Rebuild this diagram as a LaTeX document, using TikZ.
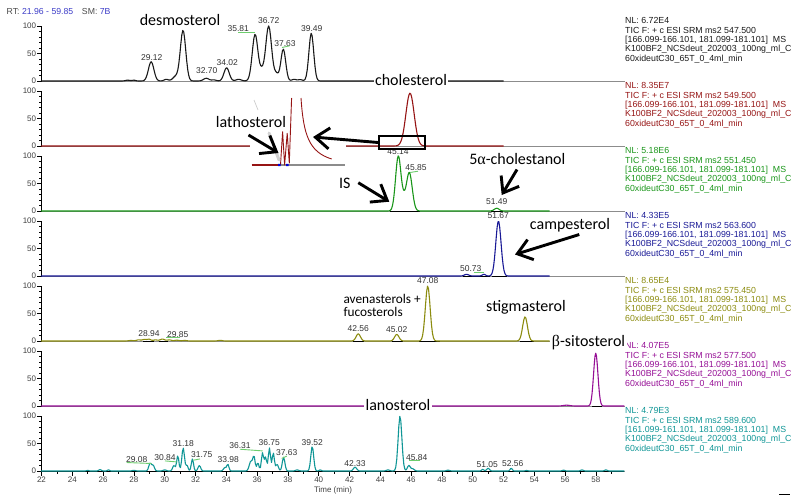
\documentclass[tikz,border=0pt]{standalone}
\usepackage{fontspec}
\setmainfont{Liberation Sans}
\newfontfamily\calibfont{Carlito}
\newfontfamily\greekfont{Liberation Serif}
\usepackage{tikz}
\usetikzlibrary{arrows.meta}
\definecolor{ChromBlack}{RGB}{25,25,25}
\definecolor{ChromRed}{RGB}{150,20,20}
\definecolor{ChromGreen}{RGB}{25,150,25}
\definecolor{ChromBlue}{RGB}{25,25,150}
\definecolor{ChromOlive}{RGB}{140,140,15}
\definecolor{ChromPurple}{RGB}{150,15,150}
\definecolor{ChromTeal}{RGB}{15,150,150}
\definecolor{HeadBlue}{RGB}{60,60,200}
\definecolor{LeadGreen}{RGB}{110,205,110}
\definecolor{BaseGray}{RGB}{140,140,140}

\begin{document}
\begin{tikzpicture}[x=1pt,y=-1pt,
  declare function={pk(\xt,\xc,\xh,\xw)=\xh*exp(-min(abs(\xt-\xc)/\xw,5)*min(abs(\xt-\xc)/\xw,5));},
  panel/.style={x=15.4pt,y=55pt,xshift=-297.3pt,yshift=-#1pt},
  trace/.style={#1,line width=1.1pt,line join=round},
  intbase/.style={black,line width=0.9pt},
  axisln/.style={BaseGray,line width=0.8pt},
  yaxis/.style={black,line width=0.8pt},
  ticklbl/.style={font=\fontsize{8}{9}\selectfont,text=black!75,inner sep=0.5pt},
  pklbl/.style={font=\fontsize{8.5}{9}\selectfont,text=black!80,inner sep=1pt},
  lead/.style={LeadGreen,line width=0.9pt},
  cmpd/.style={font=\calibfont\fontsize{16}{16}\selectfont,inner sep=1.5pt,anchor=base},
  infotxt/.style={font=\fontsize{8.8}{9.3}\selectfont,align=left,inner sep=0pt,anchor=north west},
  callout/.style={black,line width=2.9pt,-{Straight Barb[length=14pt,width=21pt]}}]
\fill[white] (0,0) rectangle (794,496);
\useasboundingbox (0,0) rectangle (794,496);
\node[anchor=west,font=\fontsize{8.7}{9}\selectfont,inner sep=0pt](rthead) at(6.5,11.5)
   {\textcolor{black!70}{RT:} \textcolor{HeadBlue}{21.96 - 59.85}\quad\textcolor{black!70}{SM:} \textcolor{HeadBlue}{7B}};
\foreach \k in {0,...,6} {
   \pgfmathsetmacro\yz{81+65*\k}
   \draw[axisln] (41.5,\yz) -- (625,\yz);
   \draw[yaxis] (41.5,\yz) -- (41.5,\yz-55);
   \foreach \v in {0,...,10} {
      \draw[yaxis] (41.5,\yz-5.5*\v) -- ++(-2.5,0);
   }
   \foreach \v/\1 in {0/0,5/50,10/100} {
      \draw[yaxis] (41.5,\yz-5.5*\v) -- ++(-4.5,0) node[left,ticklbl](yl\k\v){\1};
   }
}
\foreach \k/\col/\nl/\ms/\rng in {0/ChromBlack/6.72E4/547.500/166,1/ChromRed/8.35E7/549.500/166,
   2/ChromGreen/5.18E6/551.450/166,3/ChromBlue/4.33E5/563.600/166,4/ChromOlive/8.65E4/575.450/166,
   5/ChromPurple/4.07E5/577.500/166,6/ChromTeal/4.79E3/589.600/161} {
   \node[infotxt,text=\col](info\k) at(625,{17+65*\k}) {NL: \nl\\[0.6pt]TIC F: + c ESI SRM ms2 \ms\\{[}\rng.099-\rng.101, 181.099-181.101{]}\ \ MS\\K100BF2\_NCSdeut\_202003\_100ng\_ml\_C\\60xideutC30\_65T\_0\_4ml\_min};
}
\begin{scope}[panel=81]
   \draw[trace=ChromBlack] (21.96,0) -- (27.2,0) -- plot[domain=27.2:40.6,samples=210] (\x,{pk(\x,27.6,.015,.2)+pk(\x,28.0,.015,.15)+pk(\x,29.12,.35,.25)+pk(\x,30.1,.03,.2)+pk(\x,30.7,.08,.25)+pk(\x,31.19,.92,.25)+pk(\x,32.7,.05,.25)+pk(\x,33.2,.02,.2)+pk(\x,34.02,.24,.24)+pk(\x,34.8,.03,.25)+pk(\x,35.87,.85,.26)+pk(\x,36.3,.15,.2)+pk(\x,36.75,1,.27)+pk(\x,37.25,.12,.2)+pk(\x,37.7,.58,.22)+pk(\x,38.4,.03,.2)+pk(\x,38.8,.025,.2)+pk(\x,39.52,.87,.22)}) -- (52,0);
\end{scope}
\begin{scope}[panel=146]
   \draw[trace=ChromRed] (21.96,0) -- (44.3,0) -- plot[domain=44.3:47.6,samples=60] (\x,{pk(\x,45.93,.96,.38)}) -- (52,0);
\end{scope}
\begin{scope}[panel=211]
   \draw[intbase] (44.65,0) -- (46.55,0) (51.2,0) -- (51.95,0);
   \draw[trace=ChromGreen] (21.96,0) -- (44.2,0) -- plot[domain=44.2:46.9,samples=60] (\x,{pk(\x,45.17,1,.25)+pk(\x,45.52,.12,.18)+pk(\x,45.88,.7,.27)}) -- (50.8,0) -- plot[domain=50.8:52.3,samples=30] (\x,{pk(\x,51.56,.05,.22)}) -- (55,0);
\end{scope}
\begin{scope}[panel=276]
   \draw[intbase] (49.4,0) -- (51.1,0) (51.25,0) -- (52.2,0);
   \draw[trace=ChromBlue] (21.96,0) -- (48.8,0) -- plot[domain=48.8:53.2,samples=80] (\x,{pk(\x,49.6,.03,.2)+pk(\x,50.73,.03,.15)+pk(\x,51.67,1,.24)}) -- (55,0);
\end{scope}
\begin{scope}[panel=341]
   \draw[intbase] (28.6,0) -- (29.3,0) (29.6,0) -- (30.2,0) (42.25,0) -- (42.96,0) (44.74,0) -- (45.45,0) (46.53,0) -- (47.88,0) (53.07,0) -- (53.97,0);
   \draw[trace=ChromOlive] (21.96,0) -- (27.3,0) -- plot[domain=27.3:34.2,samples=110] (\x,{pk(\x,27.8,.01,.2)+pk(\x,28.3,.02,.2)+pk(\x,28.7,.03,.2)+pk(\x,29.0,.03,.15)+pk(\x,29.4,.02,.2)+pk(\x,29.85,.035,.2)+pk(\x,30.3,.02,.2)+pk(\x,30.8,.015,.2)+pk(\x,31.3,.01,.2)+pk(\x,33.6,.012,.2)}) -- (41.9,0) -- plot[domain=41.9:54.6,samples=200] (\x,{pk(\x,42.57,.13,.2)+pk(\x,45.07,.12,.2)+pk(\x,47.08,1,.22)+pk(\x,53.4,.44,.22)}) -- (55,0);
\end{scope}
\begin{scope}[panel=406]
   \draw[intbase] (57.73,0) -- (58.38,0);
   \draw[trace=ChromPurple] (21.96,0) -- (55.2,0) -- plot[domain=55.2:59,samples=80] (\x,{pk(\x,56.1,.015,.3)+pk(\x,57.99,.96,.2)}) -- (59.85,0);
\end{scope}
\begin{scope}[panel=471]
   \draw[yaxis] (21.96,0) -- (59.85,0);
   \foreach \t in {22,...,59} {
      \draw[yaxis] (\t,0) -- ++(0pt,-3pt);
   }
   \foreach \t in {22,24,...,58} {
      \draw[yaxis] (\t,0) -- ++(0pt,-5pt) node[below=0.5pt,ticklbl](xl\t){\t};
   }
   \draw[trace=ChromTeal] (21.96,0) -- (24.6,0)
      -- plot[domain=24.6:27.5,samples=45] (\x,{pk(\x,25.0,.012,.1)+pk(\x,25.8,.025,.12)+pk(\x,26.35,.02,.1)})
      -- plot[domain=27.5:33.2,samples=90] (\x,{pk(\x,28.0,.012,.15)+pk(\x,29.05,.14,.12)+pk(\x,29.25,.1,.12)+pk(\x,30.0,.02,.15)+pk(\x,30.6,.1,.12)+pk(\x,30.85,.28,.1)+pk(\x,31.2,.42,.12)+pk(\x,31.45,.1,.1)+pk(\x,31.8,.22,.1)+pk(\x,32.25,.1,.12)})
      -- plot[domain=33.2:41,samples=120] (\x,{pk(\x,33.9,.06,.12)+pk(\x,34.1,.12,.1)+pk(\x,35.6,.18,.15)+pk(\x,35.8,.25,.1)+pk(\x,36.05,.15,.1)+pk(\x,36.35,.33,.1)+pk(\x,36.55,.25,.1)+pk(\x,36.8,.42,.1)+pk(\x,37.05,.33,.1)+pk(\x,37.3,.12,.12)+pk(\x,37.72,.25,.12)+pk(\x,38.6,.02,.15)+pk(\x,39.58,.45,.13)+pk(\x,40.1,.02,.1)})
      -- plot[domain=41:47.5,samples=100] (\x,{pk(\x,42.36,.07,.15)+pk(\x,44.5,.02,.15)+pk(\x,45.28,1,.17)+pk(\x,45.85,.1,.13)+pk(\x,46.1,.04,.15)})
      -- plot[domain=47.5:59.85,samples=190] (\x,{pk(\x,48.4,.015,.15)+pk(\x,50.65,.03,.1)+pk(\x,51.0,.05,.12)+pk(\x,52.5,.05,.1)+pk(\x,53.5,.01,.1)+pk(\x,55.9,.015,.12)+pk(\x,57.1,.02,.12)+pk(\x,58.65,.02,.12)});
\end{scope}
\node[ticklbl](tlabel) at(333,490.5) {Time (min)};
\node[pklbl](p1a) at(151.7,57.3) {29.12};
\node[pklbl](p1b) at(206.7,71) {32.70};
\node[pklbl](p1c) at(227.3,62.3) {34.02};
\node[pklbl](p1d) at(238.3,28.3) {35.81};
\node[pklbl](p1e) at(268.7,21) {36.72};
\node[pklbl](p1f) at(285,43.3) {37.63};
\node[pklbl](p1g) at(311.7,28.3) {39.49};
\draw[lead] (p1d.south) -- ++(16.5,0);
\draw[lead] ([xshift=-3pt]p1f.south) -- ++(7.6,-1.7);
\node[pklbl](p3a) at(398,151.7) {45.14};
\node[pklbl](p3b) at(416,167.3) {45.85};
\node[pklbl](p3c) at(496.7,201.7) {51.49};
\draw[lead] ([xshift=-6pt,yshift=-1pt]p3b.south) -- ++(8,-1.3);
\node[pklbl](p4a) at(498.3,216) {51.67};
\node[pklbl](p4b) at(470.7,268.3) {50.73};
\draw[lead] ([xshift=3pt]p4b.south) -- ++(10,0);
\node[pklbl](p5a) at(427.7,281) {47.08};
\node[pklbl](p5b) at(358.3,329) {42.56};
\node[pklbl](p5c) at(396.7,330) {45.02};
\node[pklbl](p5d) at(149,333.3) {28.94};
\node[pklbl](p5e) at(177.7,334.3) {29.85};
\draw[lead] ([xshift=2.5pt,yshift=1pt]p5e.south) -- ++(-14,0);
\node[pklbl](p7a) at(136.7,459.3) {29.08};
\node[pklbl](p7b) at(165,457.7) {30.84};
\node[pklbl](p7c) at(183.3,443.3) {31.18};
\node[pklbl](p7d) at(201.7,455) {31.75};
\node[pklbl](p7e) at(228.3,460) {33.98};
\node[pklbl](p7f) at(240,446) {36.31};
\node[pklbl](p7g) at(269.3,442.7) {36.75};
\node[pklbl](p7h) at(286.7,452.7) {37.63};
\node[pklbl](p7i) at(312.3,442.7) {39.52};
\node[pklbl](p7j) at(355,463.3) {42.33};
\node[pklbl](p7k) at(416.7,457.3) {45.84};
\node[pklbl](p7l) at(487.3,465) {51.05};
\node[pklbl](p7m) at(512.7,463.3) {52.56};
\draw[lead] ([xshift=-10pt,yshift=1pt]p7a.south) -- ++(25,1);
\draw[lead] ([yshift=1pt]p7b.south) -- ++(11.7,1);
\draw[lead] ([xshift=-8.4pt,yshift=-1pt]p7d.south) -- ++(6.7,-1.3);
\draw[lead] ([yshift=1pt]p7f.south) -- ++(22.7,1.7);
\draw[lead] ([xshift=-5pt,yshift=-1.5pt]p7h.south) -- ++(5,-2.3);
\draw[lead] ([xshift=-7.4pt,yshift=0.6pt]p7k.south) -- ++(10.7,0);
\fill[white] (250,94) rectangle (346,168);
\draw[ChromRed,line width=1.4pt] (251.7,165) -- (278.5,165);
\draw[BaseGray,line width=1.4pt] (278.5,165) -- (345,165);
\draw[ChromRed,line width=0.9pt,line join=round] (280.5,165) -- (282.6,131.7) -- (284.6,165) -- (287.2,133.3) -- (289.3,163) -- (291.6,98);
\draw[ChromRed,line width=0.9pt] (301,98) .. controls (303.5,135) and (309,152) .. (331.7,159);
\fill[blue!85!black] (278.2,163.8) rectangle ++(2.4,2.4) (286.2,163.8) rectangle ++(2.4,2.4);
\draw[gray!45,line width=0.6pt] (254,100) -- (258,110);
\draw[gray!35,line width=3pt,line cap=round] (269,133) -- (279,160);
\node[cmpd](desmo) at(180,25) {desmosterol};
\node[cmpd,fill=white](chol) at(411,85.3) {cholesterol};
\node[cmpd](latho) at(251,127.3) {lathosterol};
\node[cmpd](is) at(344.7,188.3) {IS};
\node[cmpd](cholstn) at(517.3,164) {5{\greekfont α}-cholestanol};
\node[cmpd](camp) at(570,229.3) {campesterol};
\node[font=\calibfont\fontsize{13.3}{13}\selectfont,align=left,anchor=north west,inner sep=0pt](avena) at(343.3,293.7) {avenasterols +\\fucosterols};
\node[cmpd](stigma) at(526,311.7) {stigmasterol};
\node[cmpd,fill=white](sito) at(588.5,346.7) {{\greekfont β}-sitosterol};
\node[cmpd,fill=white](lano) at(398,410.7) {lanosterol};
\node[draw=black,line width=2pt,minimum width=46pt,minimum height=13pt,inner sep=0pt](zoombox) at(402,142.5) {};
\coordinate (insetTip) at (313,137);
\coordinate (lathoTail) at (248.5,135);
\coordinate (lathoTip) at (278.5,153);
\coordinate (isTail) at (358.3,182.7);
\coordinate (isTip) at (389.3,201.7);
\coordinate (cholTail) at (517,169.5);
\coordinate (cholTip) at (501.7,195);
\coordinate (campTail) at (579.3,234.5);
\coordinate (campTip) at (515,254.5);
\draw[callout] (zoombox.west) -- (insetTip);
\draw[callout] (lathoTail) -- (lathoTip);
\draw[callout] (isTail) -- (isTip);
\draw[callout] (cholTail) -- (cholTip);
\draw[callout] (campTail) -- (campTip);
\draw[black,line width=1.5pt] (779,494.5) -- (790,494.5);
\end{tikzpicture}
\end{document}
